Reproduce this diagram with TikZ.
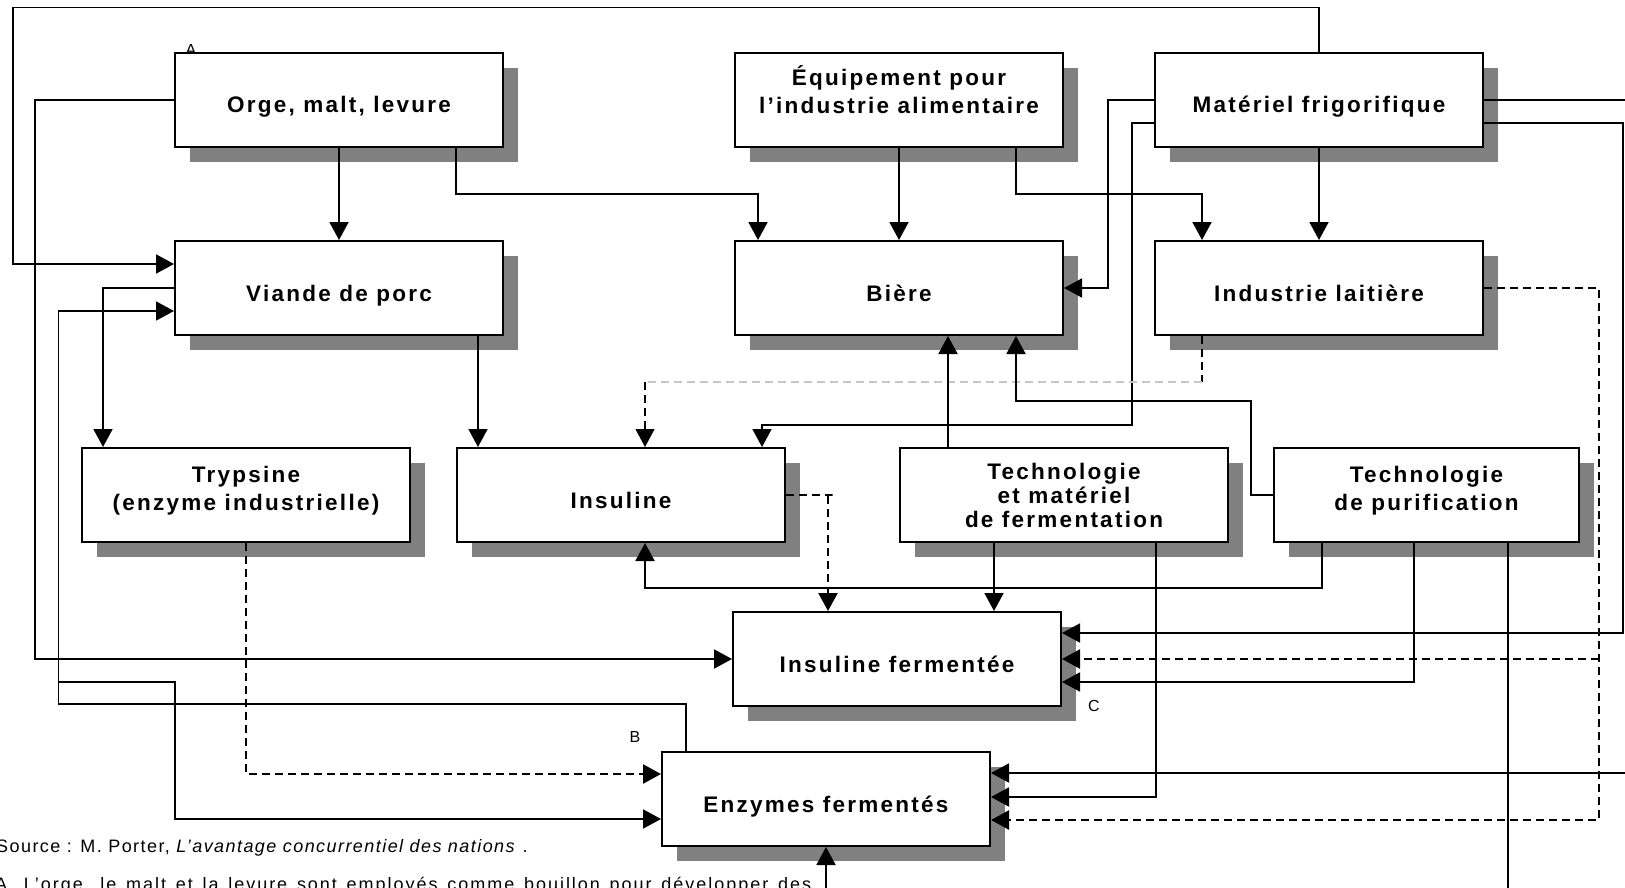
\documentclass[tikz,border=0pt]{standalone}
\usepackage{fontspec}
\newfontfamily\boxfont{Liberation Sans}[LetterSpace=10]
\newfontfamily\notefont{Liberation Sans}[LetterSpace=8]
\newfontfamily\notewidefont{Liberation Sans}[LetterSpace=11]
\usetikzlibrary{arrows.meta,positioning,shadows}

\begin{document}
\begin{tikzpicture}[
    x=1pt, y=-1pt,
    box/.style={rectangle, draw, line width=2pt, fill=white, minimum width=328pt, minimum height=94pt, inner sep=0pt, align=center,
        font=\boxfont\bfseries\fontsize{22.5}{28}\selectfont,
        drop shadow={shadow xshift=15pt, shadow yshift=-15pt, fill=gray, opacity=1}},
    single/.style={box, text height=30pt, text depth=4pt},
    arrow/.style={-{Triangle[length=18pt,width=19pt]}, line width=1.9pt},
    dasharrow/.style={arrow, dash pattern=on 8pt off 5pt, line width=2.4pt},
    dashline/.style={dash pattern=on 8pt off 5pt, line width=1.1pt},
    note/.style={font=\notefont\fontsize{18}{21}\selectfont, inner sep=0pt},
    letter/.style={font=\notefont\fontsize{16}{19}\selectfont, inner sep=0pt}
]
    \useasboundingbox (0,0) rectangle (1625,888);

    \node[letter, anchor=north] (labA) at (191,44) {A};

    \node[single] (orge) at (339,100) {Orge, malt, levure};
    \node[box, right=230pt of orge] (equip) {Équipement pour\\l’industrie alimentaire\\[-7pt]\mbox{}};
    \node[single, right=90pt of equip] (frigo) {Matériel frigorifique};
    \node[single, below=92pt of orge] (porc) {Viande de porc};
    \node[single, below=92pt of equip] (biere) {Bière};
    \node[single, below=92pt of frigo] (lait) {Industrie laitière};
    \node[box] (trypsine) at (246,495) {Trypsine\\(enzyme industrielle)\\[-14pt]\mbox{}};
    \node[single, right=45pt of trypsine] (insuline) {Insuline};
    \node[box, right=113pt of insuline, font=\boxfont\bfseries\fontsize{22.5}{24}\selectfont] (fermtech) {Technologie\\et matériel\\de fermentation};
    \node[box, right=44pt of fermtech, minimum width=305pt] (purif) {Technologie\\de purification\\[-14pt]\mbox{}};
    \node[single] (insferm) at (897,659) {Insuline fermentée};
    \node[single] (enzymes) at (826,799) {Enzymes fermentés};

    \node[letter] (labB) at (635,737) {B};
    \node[letter] (labC) at (1094,706) {C};

    \draw[arrow] (frigo.north) |- (13,7.5) |- ([yshift=24pt]porc.west);
    \draw[arrow] (orge.west) -| (35,659) -- (insferm.west);
    \draw[arrow] (orge) -- (porc);
    \draw[arrow] ([xshift=-48pt]orge.south east) -- ++(0,46) -| ([xshift=24pt]biere.north west);
    \draw[arrow] (equip) -- (biere);
    \draw[arrow] ([xshift=-48pt]equip.south east) -- ++(0,46) -| ([xshift=48pt]lait.north west);
    \draw[arrow] (frigo) -- (lait);
    \draw[arrow] (frigo.west) -- ++(-46,0) |- (biere.east);
    \draw[arrow] ([yshift=-23pt]frigo.west) -- ++(-22,0) -- ++(0,302) -| ([xshift=-24pt]insuline.north east);
    \draw[arrow] (frigo.east) -- ++(160,0) |- ([yshift=26pt]enzymes.east);
    \draw[arrow] ([yshift=-23pt]frigo.east) -- ++(139,0) |- ([yshift=26pt]insferm.east);
    \draw[dasharrow] (lait.east) -- ++(115,0) coordinate (dtop) |- ([yshift=-21pt]enzymes.east);
    \draw[dasharrow] (dtop |- insferm.east) -- (insferm.east);

    \coordinate (insin) at ([xshift=24pt]insuline.north);
    \draw[dashline] ([xshift=48pt]lait.south west) -- ++(0,46) coordinate (g1);
    \draw[dashline, gray!45] (g1) -- (g1 -| insin) coordinate (g2);
    \draw[arrow, dashline] (g2) -- (insin);

    \draw[arrow] (purif.west) -- ++(-22,0) -- ++(0,-94) -| ([xshift=-48pt]biere.south east);
    \draw[arrow] ([xshift=-116pt]fermtech.north) coordinate (f1) -- (f1 |- biere.south);
    \draw[arrow] (porc.west) -| ([xshift=22pt]trypsine.north west);
    \draw[arrow] ([xshift=25pt]enzymes.north west) |- (58.5,704) |- ([yshift=-23pt]porc.west);
    \coordinate (jct) at (58.5,682);
    \draw[arrow] (jct) -- ++(116.5,0) |- ([yshift=-20pt]enzymes.west);
    \draw[dasharrow] (trypsine.south) |- ([yshift=25pt]enzymes.west);
    \draw[arrow] ([xshift=-26pt]porc.south east) coordinate (p1) -- (p1 |- insuline.north);
    \draw[dasharrow] (insuline.east) -- ++(46.5,0) -| ([xshift=-69pt]insferm.north);
    \draw[arrow] ([xshift=-104.5pt]purif.south) -- ++(0,45) -| ([xshift=24pt]insuline.south);
    \draw[arrow] ([xshift=-70pt]fermtech.south) coordinate (f2) -- (f2 |- insferm.north);
    \draw[arrow] ([xshift=92pt]fermtech.south) |- ([yshift=2pt]enzymes.east);
    \draw[arrow] ([xshift=-12.5pt]purif.south) |- ([yshift=-23pt]insferm.east);
    \draw[arrow] ([xshift=81.5pt]purif.south) -- ++(0,370) -| (enzymes.south);

    \node[note, anchor=base west] (source) at (-4,852) {Source : M. Porter, \textit{L’avantage concurrentiel des nations} .};
    \node[note, anchor=base west] (noteA) at (-5,890) {\notewidefont\makebox[816pt][s]{A. L’orge, le malt et la levure sont employés comme bouillon pour développer des}};
\end{tikzpicture}
\end{document}
